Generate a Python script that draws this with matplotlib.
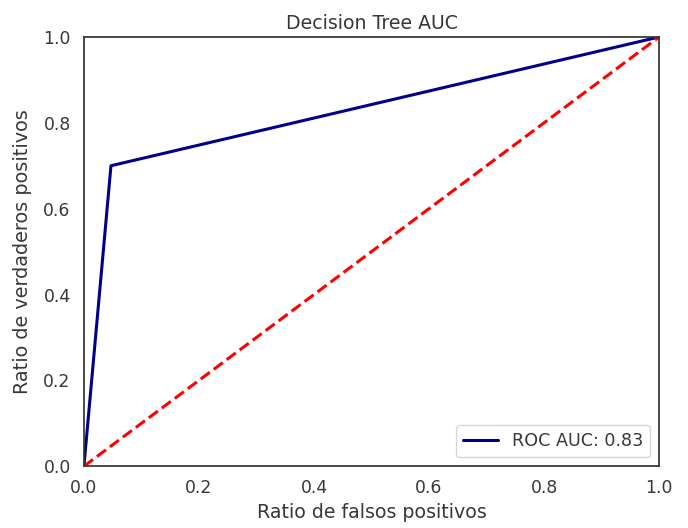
import matplotlib
matplotlib.use("Agg")
import matplotlib.pyplot as plt
import seaborn as sns

fpr = [0.0, 0.047, 1.0]
tpr = [0.0, 0.70, 1.0]
diag = [0.0, 1.0]
auc_label = "ROC AUC: 0.83"

sns.set_theme(style="white")
plt.rcParams.update({
    "text.color": "0.22",
    "axes.labelcolor": "0.22",
    "xtick.color": "0.22",
    "ytick.color": "0.22",
    "axes.edgecolor": "0.2",
})
fig, ax = plt.subplots(figsize=(6.88, 5.28), dpi=100)
fig.subplots_adjust(left=0.122, right=0.958, top=0.930, bottom=0.117)
ax.plot(fpr, tpr, color="darkblue", lw=2.2, label=auc_label)
ax.plot(diag, diag, color="red", lw=2.2, ls="--")
ax.set_xlim(0, 1)
ax.set_ylim(0, 1)
ax.set_title("Decision Tree AUC", fontsize=13.6)
ax.set_xlabel("Ratio de falsos positivos", fontsize=13.7)
ax.set_ylabel("Ratio de verdaderos positivos", fontsize=13.9, labelpad=8.5)
ax.tick_params(labelsize=12.4)
ax.legend(loc="lower right", fontsize=12.6)
fig.savefig("out.png", dpi=100)
